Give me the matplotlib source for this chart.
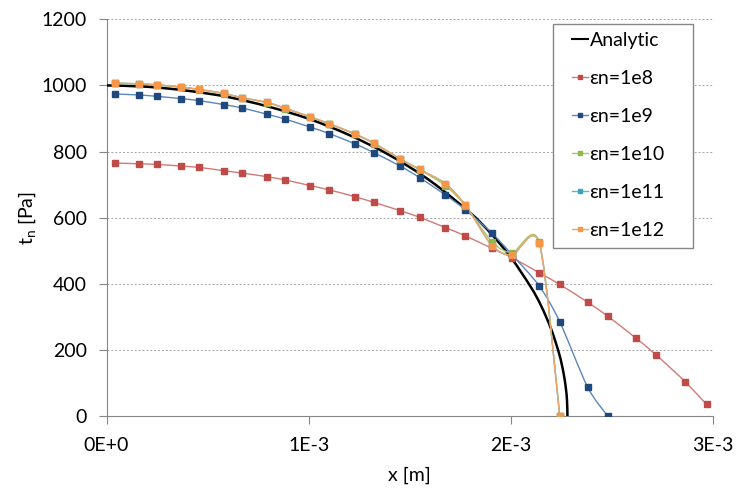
import numpy as np
import matplotlib.pyplot as plt
from matplotlib.path import Path
from matplotlib.patches import PathPatch, Rectangle
from matplotlib.lines import Line2D

plt.rcParams['font.family'] = ['Lato', 'DejaVu Sans']
plt.rcParams['mathtext.fontset'] = 'custom'
plt.rcParams['mathtext.rm'] = 'Lato'
plt.rcParams['mathtext.it'] = 'Lato:italic'

# analytic solution
x_an = [0.0, 0.2e-3, 0.4e-3, 0.6e-3, 0.8e-3, 1.0e-3, 1.2e-3, 1.4e-3, 1.6e-3,
        1.8e-3, 1.9e-3, 2.0e-3, 2.1e-3, 2.15e-3, 2.2e-3, 2.24e-3, 2.26e-3,
        2.272e-3, 2.278e-3, 2.28e-3]
t_an = [1000, 996, 984, 965, 936, 899, 850, 789, 712,
        614, 553, 480, 389, 333, 262, 186, 132, 85, 45, 0]

# integration points (x in m)
x_pts = [0.044e-3, 0.162e-3, 0.248e-3, 0.370e-3, 0.458e-3, 0.580e-3, 0.669e-3,
         0.793e-3, 0.884e-3, 1.007e-3, 1.103e-3, 1.230e-3, 1.324e-3, 1.453e-3,
         1.549e-3, 1.676e-3, 1.775e-3, 1.907e-3, 2.006e-3, 2.141e-3, 2.242e-3,
         2.380e-3, 2.479e-3, 2.618e-3, 2.720e-3, 2.862e-3, 2.968e-3]

t_1e8 = [765, 763, 761, 756, 752, 742, 735, 724, 714, 697, 684, 663, 646, 621,
         601, 570, 545, 507, 479, 433, 398, 344, 302, 236, 184, 104, 35]
t_1e9 = [974, 971, 967, 960, 954, 942, 932, 913, 898, 874, 854, 823, 796, 756,
         721, 669, 624, 553, 488, 393, 285, 87, 0]
t_1e10 = [1006, 1004, 1001, 994, 987, 975, 962, 948, 930, 904, 883, 852, 824,
          777, 745, 697, 636, 527, 494, 525, 0]
t_1e11 = [1007, 1005, 1002, 995, 988, 976, 963, 949, 931, 905, 884, 853, 825,
          778, 746, 703, 638, 515, 487, 522, 0]
t_1e12 = [1007, 1005, 1002, 995, 988, 976, 963, 949, 931, 905, 884, 853, 825,
          778, 746, 703, 638, 515, 487, 522, 0]

labels = ['εn=1e8', 'εn=1e9', 'εn=1e10', 'εn=1e11', 'εn=1e12']
line_colors = ['#D07A78', '#5A86BC', '#A9C66F', '#5FB7CE', '#F4A468']
marker_colors = ['#BE4B48', '#1F497D', '#8DB84A', '#3AA2BE', '#F79646']


def smooth_path(x, y, k=1/6):
    # Excel-like smoothed line through the points (cubic bezier segments)
    p = np.column_stack([x, y]).astype(float)
    n = len(p)
    verts = [p[0]]
    codes = [Path.MOVETO]
    for i in range(n - 1):
        p_prev = p[i - 1] if i > 0 else p[i]
        p_next = p[i + 2] if i + 2 < n else p[i + 1]
        c1 = p[i] + (p[i + 1] - p_prev) * k
        c2 = p[i + 1] - (p_next - p[i]) * k
        verts += [c1, c2, p[i + 1]]
        codes += [Path.CURVE4] * 3
    return Path(verts, codes)


W, H = 737, 492
fig = plt.figure(figsize=(W / 100, H / 100), dpi=100)
ax = fig.add_axes([106.5 / W, 1 - 416 / H, (713 - 106.5) / W, (416 - 19.3) / H])

ax.add_patch(PathPatch(smooth_path(x_an, t_an), fill=False, edgecolor='black', lw=1.8, zorder=3))

series = [t_1e8, t_1e9, t_1e10, t_1e11, t_1e12]
for vals, lc, mc in zip(series, line_colors, marker_colors):
    xs = x_pts[:len(vals)]
    ax.add_patch(PathPatch(smooth_path(xs, vals, k=0.14), fill=False, edgecolor=lc, lw=1.0, zorder=3))
    ax.plot(xs, vals, ls='none', marker='s', ms=4, color=mc, zorder=4)

ax.set_xlim(0, 3e-3)
ax.set_ylim(0, 1200)
ax.set_xticks([0, 1e-3, 2e-3, 3e-3])
ax.set_xticklabels(['0E+0', '1E-3', '2E-3', '3E-3'])
ax.set_yticks(range(0, 1201, 200))
ax.yaxis.grid(True, ls=(0, (2, 2)), color='#A5A5A5', lw=0.7)
ax.set_axisbelow(True)
for s in ['top', 'right']:
    ax.spines[s].set_visible(False)
for s in ['left', 'bottom']:
    ax.spines[s].set_color('#868686')
ax.tick_params(colors='#868686', labelcolor='black', labelsize=14, length=6, width=0.8)
ax.tick_params(axis='x', pad=9)
ax.tick_params(axis='y', pad=8)

ax.set_xlabel('x [m]', fontsize=14, labelpad=9)
ax.set_ylabel('t$_\\mathrm{n}$ [Pa]', fontsize=14, labelpad=3)

# legend frame drawn separately so it can be as wide as in the original
fig.patches.append(Rectangle((553.3 / W, 1 - 247.7 / H), 140 / W, 223.4 / H,
                             transform=fig.transFigure, facecolor='white',
                             edgecolor='#868686', lw=1.0, zorder=5))
handles = [Line2D([], [], color='black', lw=1.5)]
for lc, mc in zip(line_colors, marker_colors):
    handles.append(Line2D([], [], color=lc, lw=1.0, marker='s', ms=3,
                          markerfacecolor=mc, markeredgecolor=mc))
leg = fig.legend(handles, ['Analytic'] + labels, loc='upper left',
                 bbox_to_anchor=(572 / W, 1 - 32 / H), fontsize=14,
                 frameon=False, handlelength=0.8, handletextpad=0.1,
                 labelspacing=1.08, borderpad=0, borderaxespad=0)
leg.set_zorder(6)

fig.savefig('out.png', dpi=100)
